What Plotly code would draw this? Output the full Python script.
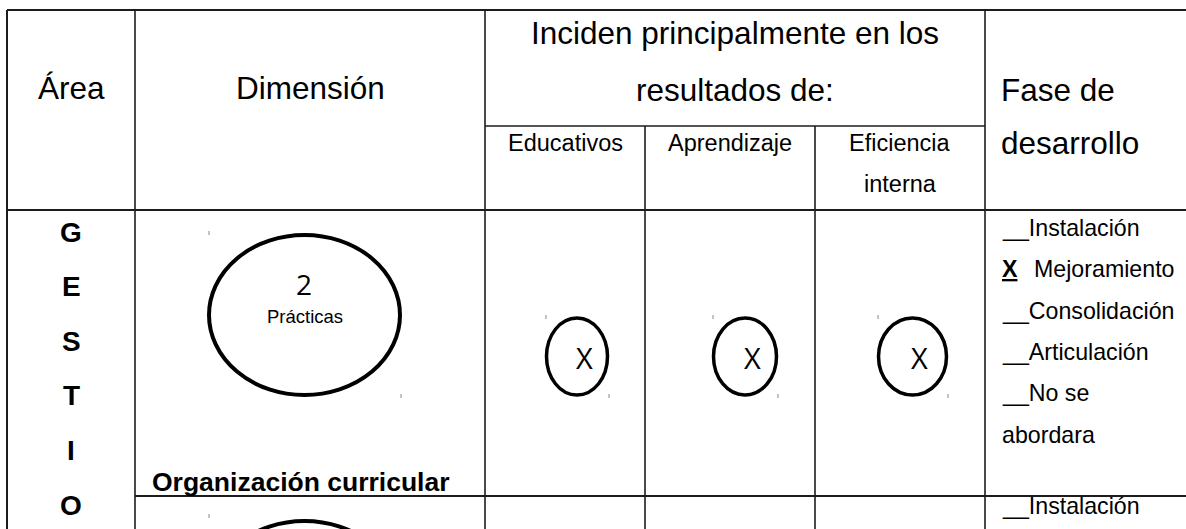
import plotly.graph_objects as go

# ---------------- content ----------------
area_header = "Área"
dimension_header = "Dimensión"
incidence_title = ["Inciden principalmente en los", "resultados de:"]
result_types = [["Educativos"], ["Aprendizaje"], ["Eficiencia", "interna"]]
phase_title = ["Fase de", "desarrollo"]
area_letters = ["G", "E", "S", "T", "I", "O"]
phase_options = ["Instalación", "Mejoramiento", "Consolidación", "Articulación", "No se", "abordara"]
row1_dimension_number = "2"
row1_dimension_label = "Prácticas"
row1_dimension_name = "Organización curricular"
row1_marks = ["X", "X", "X"]
row1_selected_phase = "Mejoramiento"
row2_phase_first = "Instalación"

# ---------------- geometry (pixel layout) ----------------
W, H = 1186, 529
col_x = [7, 135, 485, 645, 815, 985, W + 5]
y_top, y_sub, y_head, row_h = 10, 126, 210, 286
rows_top = [y_head, y_head + row_h]
mark_geo = [(545, 609), (712, 778), (877, 948)]  # small ellipse x-spans
LINE = "#1c1c1c"
FONT = "Liberation Sans, Arial, sans-serif"

fig = go.Figure()
shapes, ann = [], []


def hline(y, x0, x1, w=1.6):
    shapes.append(dict(type="line", x0=x0, x1=x1, y0=y, y1=y, line=dict(color=LINE, width=w)))


def vline(x, y0, y1, w=1.6):
    shapes.append(dict(type="line", x0=x, x1=x, y0=y0, y1=y1, line=dict(color=LINE, width=w)))


def tick(x, y):
    shapes.append(dict(type="line", x0=x, x1=x, y0=y - 2, y1=y + 2, line=dict(color="#888", width=1)))


def text(t, x, y, size, xanchor="center", bold=False, font=FONT):
    ann.append(dict(text=("<b>%s</b>" % t) if bold else t, x=x, y=y, xref="x", yref="y",
                    showarrow=False, xanchor=xanchor, yanchor="middle",
                    font=dict(family=font, size=size, color="#000")))


# table grid
hline(y_top, col_x[0], col_x[-1], 2)
hline(y_sub, col_x[2], col_x[5])
hline(y_head, col_x[0], col_x[-1], 2)
hline(rows_top[1], col_x[1], col_x[-1], 2)
vline(col_x[0], y_top, H + 5, 2)
vline(col_x[1], y_top, H + 5)
vline(col_x[2], y_top, H + 5)
vline(col_x[3], y_sub, H + 5)
vline(col_x[4], y_sub, H + 5)
vline(col_x[5], y_top, H + 5)

# headers
HS, SS, PS = 31.5, 23.5, 23.2
text(area_header, (col_x[0] + col_x[1]) / 2, 88, HS)
text(dimension_header, (col_x[1] + col_x[2]) / 2, 88, HS)
for i, t in enumerate(incidence_title):
    text(t, (col_x[2] + col_x[5]) / 2, 33 + i * 57, HS)
for i, t in enumerate(phase_title):
    text(t, col_x[5] + 14, 90 + i * 53, HS, xanchor="left")
for c, lines in enumerate(result_types):
    for i, t in enumerate(lines):
        text(t, (col_x[2 + c] + col_x[3 + c]) / 2, 143 + i * 41, SS)

# Área letters (vertical, bold)
for i, t in enumerate(area_letters):
    text(t, 71, 232 + i * 54.6, 28, bold=True)

# row 1 dimension cell
r = rows_top[0]
shapes.append(dict(type="circle", x0=209, x1=400, y0=r + 25, y1=r + 185,
                   line=dict(color="#000", width=4)))
tick(209, r + 23)
tick(401, r + 186)
text(row1_dimension_number, 304, r + 74, 28, font="Open Sans, sans-serif")
text(row1_dimension_label, 305, r + 106, 18.5)
text(row1_dimension_name, 150, r + 272, 26.5, xanchor="left", bold=True)

# row 1 incidence marks
for c, (m, (x0, x1)) in enumerate(zip(row1_marks, mark_geo)):
    shapes.append(dict(type="circle", x0=x0 + 1.5, x1=x1 - 1.5, y0=r + 108, y1=r + 185,
                       line=dict(color="#000", width=3.5)))
    tick(x0 + 1, r + 107)
    tick(x1, r + 186)
    text(m, (x0 + x1) / 2 + 7, r + 147, 29, font="Open Sans, sans-serif")

# row 1 phase list
for i, opt in enumerate(phase_options):
    y = r + 18 + i * 41.3
    if opt == row1_selected_phase:
        text("<b><u>X</u></b>", 1000, y, PS, xanchor="left")
        text(opt, 1032, y, PS, xanchor="left")
    elif opt == "abordara":
        text(opt, 1000, y, PS, xanchor="left")
    else:
        text("__" + opt, 1000, y, PS, xanchor="left")

# row 2 (partially visible)
r2 = rows_top[1]
shapes.append(dict(type="circle", x0=209, x1=400, y0=r2 + 25, y1=r2 + 185,
                   line=dict(color="#000", width=4)))
tick(209, r2 + 20)
text("__" + row2_phase_first, 1000, r2 + 10, PS, xanchor="left")

fig.update_layout(
    width=W, height=H, autosize=False,
    margin=dict(l=0, r=0, t=0, b=0),
    paper_bgcolor="white", plot_bgcolor="white",
    xaxis=dict(range=[0, W], visible=False, fixedrange=True),
    yaxis=dict(range=[H, 0], visible=False, fixedrange=True),
    shapes=shapes, annotations=ann, showlegend=False,
)
fig.write_html("out.html", config={"displayModeBar": False},
               post_script="document.body.style.margin='0';document.body.style.overflow='hidden';")
